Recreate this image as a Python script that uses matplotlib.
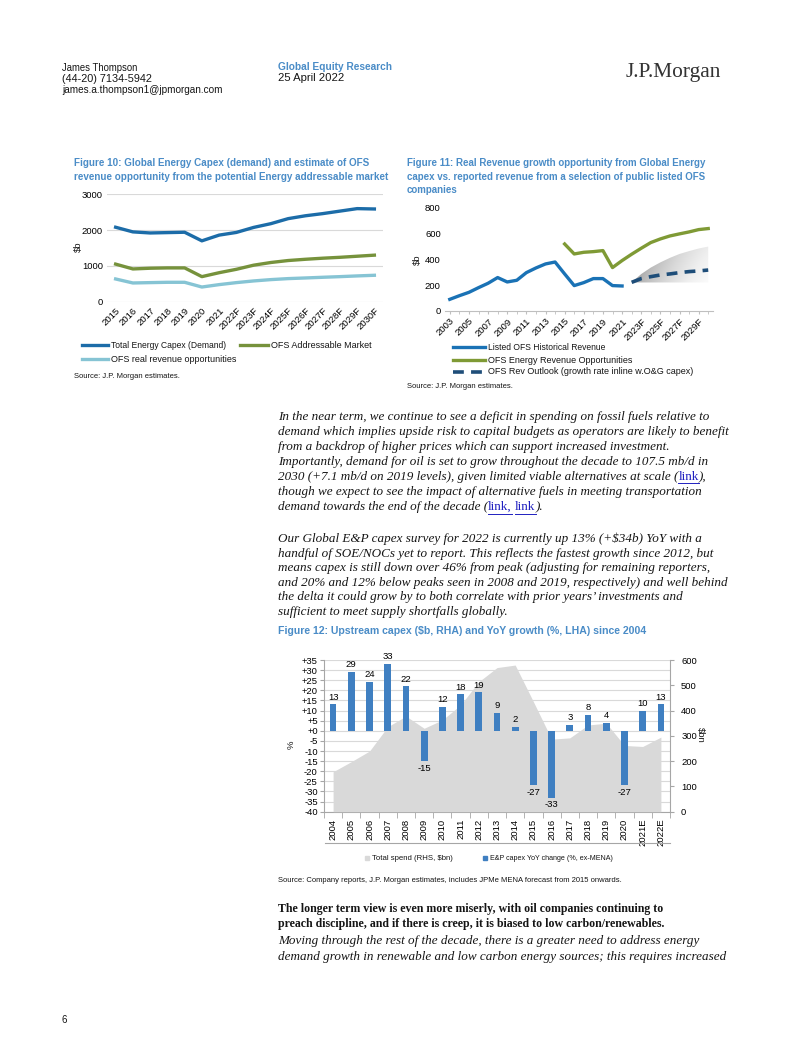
import numpy as np
import matplotlib
matplotlib.use("Agg")
import matplotlib.pyplot as plt
from matplotlib import font_manager
from matplotlib.lines import Line2D

# ---- data ----
# Figure 10
f10_years = ["2015", "2016", "2017", "2018", "2019", "2020", "2021", "2022F", "2023F",
             "2024F", "2025F", "2026F", "2027F", "2028F", "2029F", "2030F"]
f10_total = [2080, 1950, 1920, 1930, 1940, 1700, 1860, 1935, 2075, 2180, 2320, 2400,
             2460, 2530, 2600, 2590]
f10_addressable = [1050, 915, 935, 944, 944, 700, 810, 905, 1020, 1095, 1150, 1185,
                   1215, 1240, 1270, 1300]
f10_real = [635, 523, 533, 542, 542, 410, 477, 533, 580, 617, 645, 663, 682, 700, 720, 738]

# Figure 11
f11_years = [str(y) for y in range(2003, 2022)] + [str(y) + "F" for y in range(2022, 2031)]
f11_listed = [90, 118, 144, 180, 214, 258, 224, 237, 296, 332, 363, 378, 286, 196, 219,
              250, 250, 196, 193]
f11_opportunity = [517, 440, 453, 458, 466, 335, 389, 438, 484, 528, 556, 579, 595, 610,
                   628, 636]
f11_outlook = [221, 250, 265, 278, 286, 296, 304, 309, 316]
f11_fan_hi = [221, 285, 335, 375, 410, 440, 462, 482, 497]
f11_fan_lo = [221, 220, 220, 220, 220, 220, 220, 220, 220]

# Figure 12
f12_years = [str(y) for y in range(2004, 2021)] + ["2021E", "2022E"]
f12_yoy = [13, 29, 24, 33, 22, -15, 12, 18, 19, 9, 2, -27, -33, 3, 8, 4, -27, 10, 13]
f12_spend = [158, 198, 240, 336, 378, 330, 363, 422, 514, 570, 580, 435, 287, 292, 343,
             350, 262, 258, 295]

W, H = 802, 1037
fig = plt.figure(figsize=(W / 100, H / 100), dpi=100)
r = fig.canvas.get_renderer()

names = {f.name for f in font_manager.fontManager.ttflist}
SANS = "Liberation Sans"
NARROW = "Liberation Sans Narrow" if "Liberation Sans Narrow" in names else SANS
SERIF = "Liberation Serif"
BLUE_T = "#4a8cc7"
TXT = "#151515"
LINK = "#2020c0"


def rect(x0, y0, x1, y1):
    return [x0 / W, 1 - y1 / H, (x1 - x0) / W, (y1 - y0) / H]


def put(x, y, s, size=7, w=None, k=1.0, **kw):
    kw.setdefault("family", SANS)
    kw.setdefault("color", TXT)
    t = fig.text(x / W, 1 - y / H, s, fontsize=size, va="center", **kw)
    if w:
        t.set_fontsize(k * size * w / t.get_window_extent(r).width)
    return t


def hline(x0, x1, y, color, lw=1, ls="-"):
    fig.add_artist(Line2D([x0 / W, x1 / W], [1 - y / H, 1 - y / H], color=color, lw=lw,
                          ls=ls, transform=fig.transFigure))


def runs(x, y, parts, size, **kw):
    # draw a line of text made of pieces, links in blue and underlined
    for s, link in parts:
        if s == " ":
            x += size * 100 / 72 * 0.25
            continue
        t = put(x, y, s, size, color=LINK if link else TXT,
                style="normal" if link else "italic", **kw)
        bb = t.get_window_extent(r)
        if link:
            hline(x, x + bb.width, H - bb.y0 + 0.5, LINK, lw=0.7)
        x += bb.width


# narrow fonts are not always there, so let bold blue titles run a little wider
kn = 1.0 if NARROW != SANS else 1.07
title = dict(color=BLUE_T, weight="bold", family=NARROW)

# ---- header ----
put(62, 68, "James Thompson", 7, w=76)
put(62, 79, "(44-20) 7134-5942", 7, w=90)
put(62, 90, "james.a.thompson1@jpmorgan.com", 7, w=160)
put(278, 67, "Global Equity Research", 7, w=103, k=kn * 1.03, **title)
put(278, 78, "25 April 2022", 7, w=61, k=kn, family=NARROW)
put(626, 72, "J.P.Morgan", 13, w=95, family=SERIF, color="#333333")

# ---- Figure 10 ----
t = put(74, 177, "revenue opportunity from the potential Energy addressable market", 8,
        w=314, **title)
put(74, 163, "Figure 10: Global Energy Capex (demand) and estimate of OFS",
    t.get_fontsize(), **title)

ax1 = fig.add_axes(rect(107, 194.3, 383, 301.7))
x10 = np.arange(len(f10_years))
ax1.plot(x10, f10_total, color="#1c6ca8", lw=2.4)
ax1.plot(x10, f10_addressable, color="#76923c", lw=2.4)
ax1.plot(x10, f10_real, color="#86c4d4", lw=2.4)
ax1.set_xlim(-0.5, len(f10_years) - 0.5)
ax1.set_ylim(0, 3000)
ax1.set_yticks([0, 1000, 2000, 3000])
ax1.set_xticks(x10)
ax1.set_xticklabels(f10_years, rotation=45, ha="right", rotation_mode="anchor")
ax1.grid(axis="y", color="#d9d9d9", lw=0.8)
ax1.set_axisbelow(True)
for s in ax1.spines.values():
    s.set_visible(False)
ax1.tick_params(length=0, labelsize=6.8, pad=3)
for lab in ax1.get_xticklabels() + ax1.get_yticklabels():
    lab.set_family(SANS)
put(78, 247, "$b", 6.8, rotation=90, ha="center")

hline(82, 108, 345, "#1c6ca8", lw=2.4)
put(111, 345, "Total Energy Capex (Demand)", 6.5, w=115)
hline(240, 268, 345, "#76923c", lw=2.4)
put(271, 345, "OFS Addressable Market", 6.5)
hline(82, 108, 359, "#86c4d4", lw=2.4)
put(111, 359, "OFS real revenue opportunities", 6.5)
put(74, 376, "Source: J.P. Morgan estimates.", 5.3, w=105)

# ---- Figure 11 ----
t = put(407, 177, "capex vs. reported revenue from a selection of public listed OFS", 8,
        w=300, **title)
fs = t.get_fontsize()
put(407, 163, "Figure 11: Real Revenue growth opportunity from Global Energy", fs, **title)
put(407, 190, "companies", fs, **title)

ax2 = fig.add_axes(rect(445, 207.3, 713, 311))
x11 = np.arange(len(f11_years))
n_hist = len(f11_listed)
start_opp = f11_years.index("2015")
start_fc = f11_years.index("2022F")
xf = x11[start_fc:]
poly = ax2.fill_between(xf, f11_fan_lo, f11_fan_hi, color="none", lw=0)
gx, gy = np.meshgrid(np.linspace(0, 1, 200), np.linspace(0, 1, 200))
grad = 0.42 * (1 - gx) ** 1.2 + 0.12 * gy + 0.03
img = ax2.imshow(grad, extent=[xf[0], xf[-1], 200, 500], origin="lower", aspect="auto",
                 cmap="Greys", vmin=0, vmax=1, zorder=1)
img.set_clip_path(poly.get_paths()[0], transform=ax2.transData)
ax2.plot(x11[:n_hist], f11_listed, color="#1a72b5", lw=2.4, zorder=3)
ax2.plot(x11[start_opp:], f11_opportunity, color="#7f9a35", lw=2.4, zorder=3)
ax2.plot(xf, f11_outlook, color="#1f4e79", lw=2.6, ls=(0, (3, 2)), zorder=3)
ax2.set_xlim(-0.5, len(f11_years) - 0.5)
ax2.set_ylim(0, 800)
ax2.set_yticks([0, 200, 400, 600, 800])
ax2.set_xticks(x11[::2])
ax2.set_xticklabels(f11_years[::2], rotation=45, ha="right", rotation_mode="anchor")
ax2.set_xticks(x11, minor=True)
for k in ["top", "right", "left"]:
    ax2.spines[k].set_visible(False)
ax2.spines["bottom"].set_color("#bfbfbf")
ax2.tick_params(axis="y", length=0, labelsize=6.8, pad=3)
ax2.tick_params(axis="x", which="both", length=2, color="#bfbfbf", labelsize=6.8, pad=2)
for lab in ax2.get_xticklabels() + ax2.get_yticklabels():
    lab.set_family(SANS)
put(417, 260, "$b", 6.8, rotation=90, ha="center")

hline(453, 485, 347, "#1a72b5", lw=2.4)
put(488, 347, "Listed OFS Historical Revenue", 6.5, w=117)
hline(453, 485, 360, "#7f9a35", lw=2.4)
put(488, 360, "OFS Energy Revenue Opportunities", 6.5)
hline(453, 485, 372, "#1f4e79", lw=2.6, ls=(0, (3, 2)))
put(488, 372, "OFS Rev Outlook (growth rate inline w.O&G capex)", 6.5)
put(407, 387, "Source: J.P. Morgan estimates.", 5.3, w=105)

# ---- body text ----
p1 = [
    "In the near term, we continue to see a deficit in spending on fossil fuels relative to",
    "demand which implies upside risk to capital budgets as operators are likely to benefit",
    "from a backdrop of higher prices which can support increased investment.",
    "Importantly, demand for oil is set to grow throughout the decade to 107.5 mb/d in",
]
t = put(278, 417, p1[0], 9, w=429, family=SERIF, style="italic")
bs = t.get_fontsize()
for i, line in enumerate(p1[1:]):
    put(278, 432 + 15 * i, line, bs, family=SERIF, style="italic")
runs(278, 477, [("2030 (+7.1 mb/d on 2019 levels), given limited viable alternatives at scale (", False),
                ("link", True), ("),", False)], bs, family=SERIF)
put(278, 492, "though we expect to see the impact of alternative fuels in meeting transportation",
    bs, family=SERIF, style="italic")
runs(278, 507, [("demand towards the end of the decade (", False), ("link,", True), (" ", False),
                ("link", True), (").", False)], bs, family=SERIF)

p2 = [
    "Our Global E&P capex survey for 2022 is currently up 13% (+$34b) YoY with a",
    "handful of SOE/NOCs yet to report. This reflects the fastest growth since 2012, but",
    "means capex is still down over 46% from peak (adjusting for remaining reporters,",
    "and 20% and 12% below peaks seen in 2008 and 2019, respectively) and well behind",
    "the delta it could grow by to both correlate with prior years\u2019 investments and",
    "sufficient to meet supply shortfalls globally.",
]
for i, line in enumerate(p2):
    put(278, 539 + 14.6 * i, line, bs, family=SERIF, style="italic")

# ---- Figure 12 ----
put(278, 631, "Figure 12: Upstream capex ($b, RHA) and YoY growth (%, LHA) since 2004", 8,
    w=346, k=kn, **title)

box = rect(324, 660, 670, 811.7)
axg = fig.add_axes(box)
axr = axg.twinx()
axb = fig.add_axes(box)
x12 = np.arange(len(f12_years))

axg.set_xlim(-0.5, len(f12_years) - 0.5)
axg.set_ylim(-40, 35)
yt = np.arange(-40, 36, 5)
axg.set_yticks(yt)
axg.set_yticklabels([f"{v:+d}" for v in yt])
axg.grid(axis="y", color="#d9d9d9", lw=0.8)
axg.set_xticks(x12)
axg.set_xticklabels(f12_years, rotation=90)
axg.set_xticks(np.arange(-0.5, len(f12_years)), minor=True)
axg.tick_params(axis="x", which="major", length=0, labelsize=6.8, pad=5)
axg.tick_params(axis="x", which="minor", length=4, color="#a6a6a6")
axg.tick_params(axis="y", length=3, color="#a6a6a6", labelsize=6.8, pad=1.5)
axg.spines["top"].set_visible(False)
axg.spines["right"].set_visible(False)
axg.spines["left"].set_color("#a6a6a6")
axg.spines["bottom"].set_color("#a6a6a6")

axr.fill_between(x12, 0, f12_spend, color="#d9d9d9", lw=0)
axr.set_ylim(0, 600)
axr.set_yticks(range(0, 601, 100))
axr.tick_params(axis="y", length=3, color="#a6a6a6", labelsize=6.8, pad=5)
for k in ["top", "left", "bottom"]:
    axr.spines[k].set_visible(False)
axr.spines["right"].set_color("#a6a6a6")

bars = axb.bar(x12, f12_yoy, width=0.37, color="#3f7fc1")
axb.bar_label(bars, padding=2, fontsize=6.8, family=SANS)
axb.set_xlim(axg.get_xlim())
axb.set_ylim(axg.get_ylim())
axb.axis("off")
for lab in axg.get_xticklabels() + axg.get_yticklabels() + axr.get_yticklabels():
    lab.set_family(SANS)

put(291, 745, "%", 6.8, rotation=90, ha="center")
put(700, 735, "$bn", 6.8, rotation=270, ha="center")
hline(325, 670, 843, "#a6a6a6", lw=0.8)

fig.add_artist(Line2D([367 / W], [1 - 858 / H], marker="s", ms=3.2, color="#d9d9d9",
                      transform=fig.transFigure))
put(372, 858, "Total spend (RHS, $bn)", 6.5, w=80)
fig.add_artist(Line2D([485 / W], [1 - 858 / H], marker="s", ms=3.2, color="#3f7fc1",
                      transform=fig.transFigure))
put(490, 858, "E&P capex YoY change (%, ex-MENA)", 6.5, w=122)
put(278, 880, "Source: Company reports, J.P. Morgan estimates, includes JPMe MENA forecast "
    "from 2015 onwards.", 5.3, w=339)

# ---- closing text ----
t = put(278, 909, "The longer term view is even more miserly, with oil companies continuing to",
        9, w=386, family=SERIF, weight="bold")
put(278, 924, "preach discipline, and if there is creep, it is biased to low carbon/renewables.",
    t.get_fontsize(), family=SERIF, weight="bold")
t = put(278, 941, "Moving through the rest of the decade, there is a greater need to address energy",
        9, w=419, family=SERIF, style="italic")
put(278, 957, "demand growth in renewable and low carbon energy sources; this requires increased",
    t.get_fontsize(), family=SERIF, style="italic")

put(62, 1020, "6", 7)

fig.savefig("out.png", dpi=100)
